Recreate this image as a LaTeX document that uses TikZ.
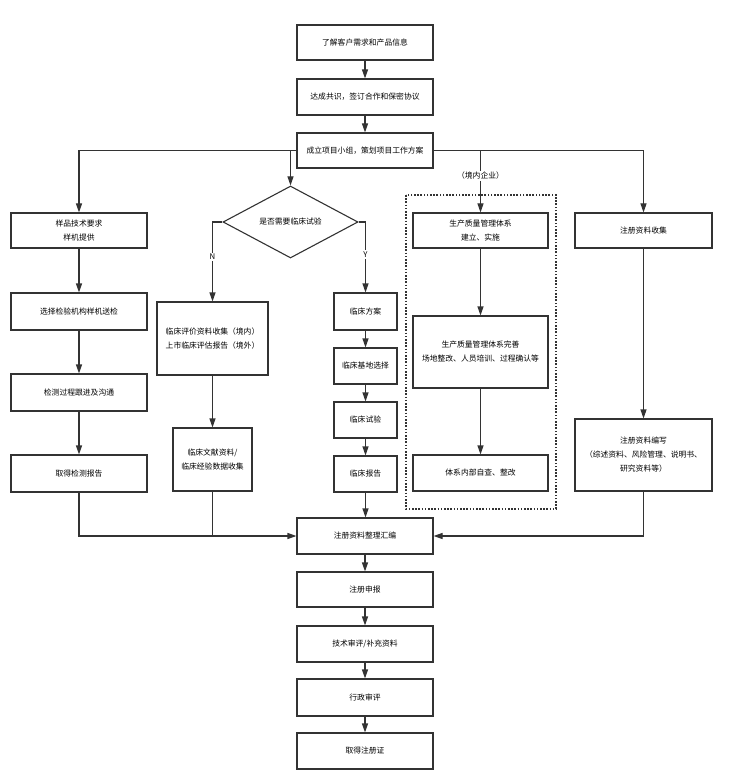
\documentclass[tikz,border=0pt]{standalone}
\usepackage{fontspec}
\setmainfont{Noto Sans CJK SC}
\usetikzlibrary{shapes.geometric,arrows.meta}
\definecolor{linegray}{HTML}{333333}

\begin{document}
\begin{tikzpicture}[x=1pt, y=-1pt,
    box/.style={draw=linegray, line width=1.1pt, fill=white, align=center, inner sep=1pt,
        font=\fontsize{7.8}{14}\selectfont},
    flow/.style={draw=linegray, line width=1.1pt, -{Triangle[length=9pt, width=6pt]}},
    plain/.style={draw=linegray, line width=1.1pt},
    tag/.style={fill=white, inner sep=1.5pt, font=\fontsize{7.8}{9}\selectfont}]
    \useasboundingbox (0,0) rectangle (730,783);

    % Main column
    \node[box, minimum width=136pt, minimum height=35pt] (b1) at (365,42.5) {了解客户需求和产品信息};
    \node[box, minimum width=136pt, minimum height=36pt] (b2) at (365,97) {达成共识，签订合作和保密协议};
    \node[box, minimum width=136pt, minimum height=35pt] (b3) at (365,150.5) {成立项目小组，策划项目工作方案};

    % Test column
    \node[box, minimum width=136pt, minimum height=35pt] (l1) at (79,230.5) {样品技术要求\\样机提供};
    \node[box, minimum width=136pt, minimum height=37pt] (l2) at (79,311.5) {选择检验机构样机送检};
    \node[box, minimum width=136pt, minimum height=37pt] (l3) at (79,392.5) {检测过程跟进及沟通};
    \node[box, minimum width=136pt, minimum height=37pt] (l4) at (79,473.5) {取得检测报告};

    % Clinical decision
    \node[box, shape=diamond, aspect=1.875, minimum width=135pt, minimum height=72pt, inner sep=0pt]
        (dia) at (290.5,222) {是否需要临床试验};
    \node[box, minimum width=111pt, minimum height=73pt] (m1) at (212.5,338.5) {临床评价资料收集（境内）\\上市临床评估报告（境外）};
    \node[box, minimum width=79pt, minimum height=63pt] (m2) at (212.5,459.5) {临床文献资料/\\临床经验数据收集};
    \node[box, minimum width=63pt, minimum height=37pt] (y1) at (365.5,311.5) {临床方案};
    \node[box, minimum width=63pt, minimum height=36pt] (y2) at (365.5,366) {临床基地选择};
    \node[box, minimum width=63pt, minimum height=36pt] (y3) at (365.5,420) {临床试验};
    \node[box, minimum width=63pt, minimum height=36pt] (y4) at (365.5,474) {临床报告};

    % Quality system (domestic)
    \draw[linegray, line width=1.8pt, dash pattern=on 1.6pt off 1.6pt] (406,195) rectangle (556,509);
    \node[box, minimum width=135pt, minimum height=35pt] (q1) at (480.5,230.5) {生产质量管理体系\\建立、实施};
    \node[box, minimum width=135pt, minimum height=72pt] (q2) at (480.5,352) {生产质量管理体系完善\\场地整改、人员培训、过程确认等};
    \node[box, minimum width=135pt, minimum height=36pt] (q3) at (480.5,473) {体系内部自查、整改};

    % Registration documents
    \node[box, minimum width=137pt, minimum height=35pt] (r1) at (643.5,230.5) {注册资料收集};
    \node[box, minimum width=137pt, minimum height=72pt] (r2) at (643.5,455) {注册资料编写\\（综述资料、风险管理、说明书、\\研究资料等）};

    % Submission chain
    \node[box, minimum width=136pt, minimum height=36pt] (main) at (365,536) {注册资料整理汇编};
    \node[box, minimum width=136pt, minimum height=35pt] (s1) at (365,589.5) {注册申报};
    \node[box, minimum width=136pt, minimum height=36pt] (s2) at (365,644) {技术审评/补充资料};
    \node[box, minimum width=136pt, minimum height=37pt] (s3) at (365,697.5) {行政审评};
    \node[box, minimum width=136pt, minimum height=36pt] (s4) at (365,751) {取得注册证};

    % Connectors
    \draw[flow] (b1.south) -- (b2.north);
    \draw[flow] (b2.south) -- (b3.north);
    \draw[flow] (b3.west) -| (l1.north);
    \draw[flow] (b3.west -| dia.north) -- (dia.north);
    \draw[flow] (b3.east) -| (r1.north);
    \draw[flow] (b3.east -| q1.north) -- node[tag, pos=0.41] {（境内企业）} (q1.north);

    \draw[flow] (l1.south) -- (l2.north);
    \draw[flow] (l2.south) -- (l3.north);
    \draw[flow] (l3.south) -- (l4.north);

    \draw[flow] (dia.west) -| node[tag, pos=0.72] {N} (m1.north);
    \draw[flow] (dia.east) -| node[tag, pos=0.73] {Y} (y1.north);
    \draw[flow] (m1.south) -- (m2.north);
    \draw[flow] (y1.south) -- (y2.north);
    \draw[flow] (y2.south) -- (y3.north);
    \draw[flow] (y3.south) -- (y4.north);

    \draw[flow] (q1.south) -- (q2.north);
    \draw[flow] (q2.south) -- (q3.north);
    \draw[flow] (r1.south) -- (r2.north);

    % Joining into the compilation step
    \draw[flow] (l4.south) |- (main.west);
    \draw[plain] (m2.south) -- (m2.south |- main.west);
    \draw[flow] (y4.south) -- (y4.south |- main.north);
    \draw[flow] (r2.south) |- (main.east);

    \draw[flow] (main.south) -- (s1.north);
    \draw[flow] (s1.south) -- (s2.north);
    \draw[flow] (s2.south) -- (s3.north);
    \draw[flow] (s3.south) -- (s4.north);
\end{tikzpicture}
\end{document}
